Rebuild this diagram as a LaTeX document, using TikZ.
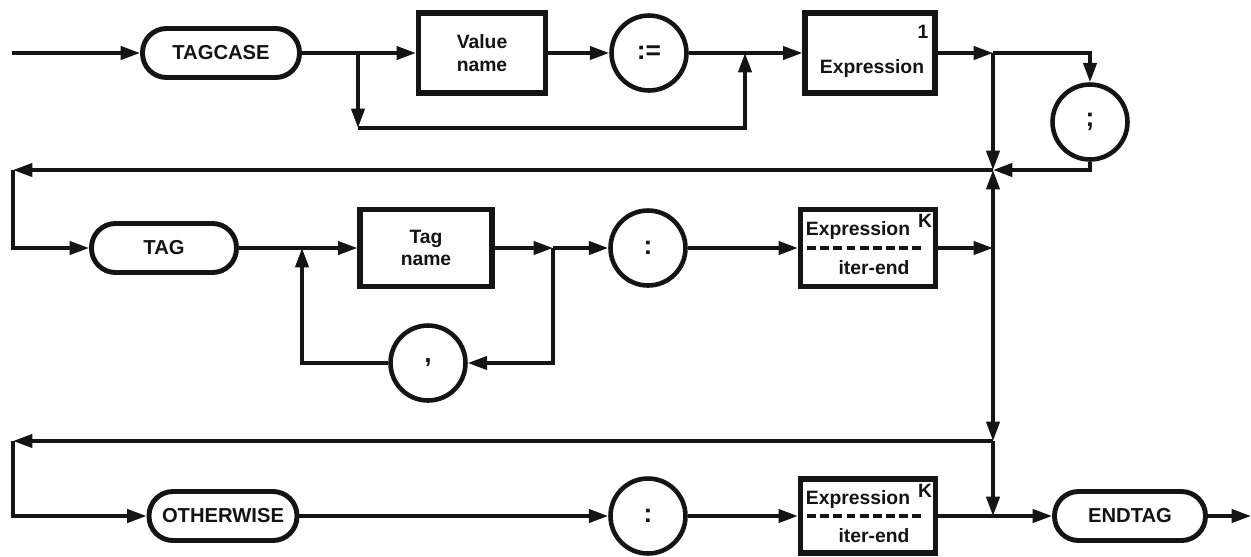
\documentclass[tikz,border=0pt]{standalone}
\usepackage{fontspec}
\setsansfont{Liberation Sans}
\usetikzlibrary{positioning, calc, arrows.meta}
\definecolor{sdInk}{RGB}{20, 20, 20}
\tikzset{
    base/.style={
        font=\sffamily\bfseries\fontsize{11}{13}\selectfont,
        align=center,
        text=sdInk
    },
    keyword/.style={
        base,
        rectangle,
        rounded corners=0.48cm,
        draw=sdInk,
        line width=2.8pt,
        fill=white,
        minimum height=0.98cm,
        inner sep=1mm,
        font=\sffamily\bfseries\fontsize{11.5}{13}\selectfont
    },
    entity/.style={
        base,
        rectangle,
        draw=sdInk,
        line width=3pt,
        fill=white,
        inner sep=1mm
    },
    symbol/.style={
        base,
        circle,
        draw=sdInk,
        line width=2.6pt,
        fill=white,
        minimum size=1.5cm,
        font=\sffamily\bfseries\fontsize{15}{15}\selectfont
    },
    annot/.style={
        base,
        inner sep=0pt
    },
    flow/.style={
        -{Triangle[length=11pt, width=7.5pt]},
        line width=2pt,
        draw=sdInk
    },
    link/.style={
        line width=2pt,
        draw=sdInk
    },
    sep/.style={
        line width=1.8pt,
        draw=sdInk,
        dash pattern=on 5pt off 2.5pt
    }
}

\begin{document}
\begin{tikzpicture}[x=0.02cm, y=-0.02cm]
  \useasboundingbox (0,0) rectangle (1251,556);

  % first row
  \node[keyword, minimum width=3.14cm] (tagcase) at (221,53) {TAGCASE};
  \node[entity, minimum width=2.54cm, minimum height=1.6cm] (valname) at (482,53) {Value\\name};
  \node[symbol] (assign) at (649,53) {:=};
  \node[entity, minimum width=2.6cm, minimum height=1.6cm] (expr1) at (870,53) {};
  \node[annot] (expr1txt) at ($(expr1.center)+(2,15)$) {Expression};
  \node[annot] (expr1idx) at ($(expr1.center)+(53,-21)$) {1};
  \node[symbol] (semi) at (1090,122) {;};

  % second row
  \node[keyword, minimum width=2.9cm] (tag) at (164,248) {TAG};
  \node[entity, minimum width=2.64cm, minimum height=1.54cm] (tagname) at (426,248) {Tag\\name};
  \node[symbol] (colon1) at (648,248) {:};
  \node[entity, minimum width=2.7cm, minimum height=1.54cm] (exprk1) at (868,248) {};
  \node[annot] (exprk1txt) at ($(exprk1.center)+(-10,-18)$) {Expression};
  \node[annot] (exprk1idx) at ($(exprk1.center)+(57,-27)$) {K};
  \node[annot] (exprk1end) at ($(exprk1.center)+(6,20)$) {iter-end};
  \draw[sep] ($(exprk1.center)+(-61,0)$) -- ($(exprk1.center)+(56,0)$);
  \node[symbol] (comma) at (428,363) {,};

  % third row
  \node[keyword, minimum width=2.96cm] (otherwise) at (223,516) {OTHERWISE};
  \node[symbol] (colon2) at (648,516) {:};
  \node[entity, minimum width=2.7cm, minimum height=1.48cm] (exprk2) at (868,516) {};
  \node[annot] (exprk2txt) at ($(exprk2.center)+(-10,-17)$) {Expression};
  \node[annot] (exprk2idx) at ($(exprk2.center)+(57,-25)$) {K};
  \node[annot] (exprk2end) at ($(exprk2.center)+(6,20)$) {iter-end};
  \draw[sep] ($(exprk2.center)+(-61,0)$) -- ($(exprk2.center)+(56,0)$);
  \node[keyword, minimum width=3.02cm] (endtag) at (1130,516) {ENDTAG};

  % junctions
  \coordinate (start) at (12,53);
  \coordinate (skip1) at (358,53);
  \coordinate (skip1low) at (358,128);
  \coordinate (skip2) at (745,53);
  \coordinate (j1) at (993,53);
  \coordinate (j2) at (993,170);
  \coordinate (ret2) at (13,170);
  \coordinate (loop1) at (302,248);
  \coordinate (loop2) at (553,248);
  \coordinate (j3) at (993,248);
  \coordinate (j4) at (993,441);
  \coordinate (ret3) at (13,441);
  \coordinate (j5) at (993,516);
  \coordinate (stop) at (1251,516);

  % first row connectors
  \draw[flow] (start) -- (tagcase);
  \draw[flow] (tagcase) -- (valname);
  \draw[flow] (valname) -- (assign);
  \draw[flow] (assign) -- (expr1);
  \draw[flow] (skip1) -- (skip1low);
  \draw[flow] (skip1low) -| (skip2);
  \draw[flow] (expr1) -- (j1);
  \draw[flow] (j1) -| (semi);
  \draw[flow] (semi) |- (j2);
  \draw[flow] (j1) -- (j2);

  % second row connectors
  \draw[flow] (j2) -- (ret2);
  \draw[flow] (ret2) |- (tag);
  \draw[flow] (tag) -- (tagname);
  \draw[flow] (tagname) -- (loop2);
  \draw[flow] (loop2) -- (colon1);
  \draw[flow] (loop2) |- (comma);
  \draw[flow] (comma) -| (loop1);
  \draw[flow] (colon1) -- (exprk1);
  \draw[flow] (exprk1) -- (j3);
  \draw[flow] (j3) -- (j2);

  % third row connectors
  \draw[flow] (j3) -- (j4);
  \draw[flow] (j4) -- (ret3);
  \draw[flow] (ret3) |- (otherwise);
  \draw[flow] (otherwise) -- (colon2);
  \draw[flow] (colon2) -- (exprk2);
  \draw[link] (exprk2) -- (j5);
  \draw[flow] (j4) -- (j5);
  \draw[flow] (j5) -- (endtag);
  \draw[flow] (endtag) -- (stop);
\end{tikzpicture}
\end{document}
